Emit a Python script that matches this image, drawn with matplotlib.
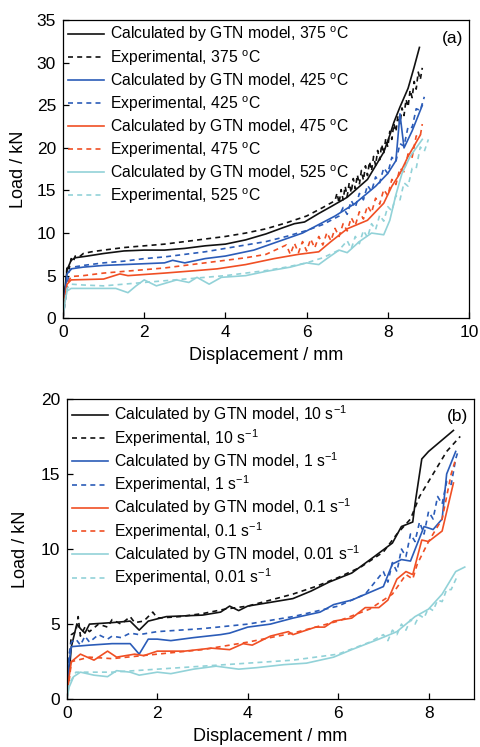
import matplotlib
matplotlib.use("Agg")
import matplotlib.pyplot as plt

plt.rcParams['font.family'] = ['Liberation Sans', 'DejaVu Sans']
plt.rcParams['mathtext.fontset'] = 'custom'
plt.rcParams['mathtext.rm'] = 'Liberation Sans'

BLACK = '#111111'
BLUE = '#2b5cb8'
RED = '#f04f24'
CYAN = '#92d2d8'

# ---------------- Panel (a): temperatures ----------------
a_calc_375_x = [0, 0.05, 0.1, 0.2, 0.3, 0.6, 1.0, 1.5, 2.0, 2.5, 3.0, 3.5, 4.0, 4.5, 5.0, 5.4, 5.7, 5.95, 6.3, 6.6, 7.0, 7.5, 7.9, 8.05, 8.15, 8.3, 8.5, 8.65, 8.78]
a_calc_375_y = [0, 3.5, 5.7, 6.8, 7.1, 7.3, 7.6, 7.9, 8.0, 8.0, 8.2, 8.5, 8.7, 9.2, 9.9, 10.6, 11.1, 11.3, 12.3, 13.1, 14.2, 16.3, 19.5, 21.5, 23.0, 24.8, 27.0, 29.5, 31.8]

a_exp_375_x = [0, 0.05, 0.1, 0.15, 0.2, 0.25, 0.3, 0.4, 0.5, 0.7, 1.0, 1.5, 2.0, 2.5, 3.0, 3.5, 4.0, 4.5, 5.0, 5.5, 6.0, 6.4, 6.7,
               6.75, 6.8, 6.85, 6.9, 6.95, 7.0, 7.05, 7.1, 7.15, 7.2, 7.25, 7.3, 7.35, 7.4, 7.45, 7.5, 7.55, 7.6, 7.65, 7.7, 7.75, 7.8,
               7.85, 7.9, 7.95, 8.0, 8.05, 8.1, 8.15, 8.2, 8.25, 8.3, 8.35, 8.4, 8.45, 8.5, 8.55, 8.6, 8.65, 8.7, 8.75, 8.8, 8.85]
a_exp_375_y = [0, 3.0, 6.2, 5.8, 7.0, 6.6, 7.3, 7.2, 7.6, 7.8, 8.0, 8.3, 8.5, 8.7, 9.0, 9.3, 9.6, 10.0, 10.5, 11.2, 12.0, 13.0, 13.8,
               14.7, 13.5, 15.1, 13.9, 15.5, 14.3, 15.9, 14.75, 16.4, 15.2, 16.85, 15.7, 17.35, 16.2, 17.9, 16.75, 18.4, 17.3, 19.0, 17.95, 19.7, 18.6,
               20.4, 19.3, 21.1, 20.1, 21.95, 21.0, 22.85, 21.9, 23.8, 22.85, 24.7, 23.8, 25.7, 24.8, 26.8, 25.9, 27.8, 26.9, 28.9, 28.0, 29.4]

a_calc_425_x = [0, 0.05, 0.1, 0.2, 0.5, 1.0, 1.5, 2.0, 2.5, 2.7, 3.0, 3.5, 4.0, 4.7, 5.3, 5.9, 6.3, 6.7, 7.2, 7.7, 8.0, 8.2, 8.3, 8.4, 8.6, 8.85]
a_calc_425_y = [0, 3.0, 5.2, 5.8, 6.0, 6.2, 6.3, 6.4, 6.5, 6.8, 6.5, 7.0, 7.3, 8.0, 9.0, 10.0, 11.0, 12.0, 13.5, 15.5, 17.0, 18.5, 24.0, 20.0, 22.0, 25.0]

a_exp_425_x = [0, 0.08, 0.15, 0.25, 0.5, 1.0, 1.5, 2.0, 2.5, 3.0, 3.5, 4.0, 4.5, 5.0, 5.5, 6.0, 6.4, 6.8,
               6.9, 7.0, 7.1, 7.2, 7.3, 7.4, 7.5, 7.6, 7.7, 7.8, 7.9, 8.0, 8.1, 8.2, 8.3, 8.4, 8.5, 8.6, 8.7, 8.8, 8.9]
a_exp_425_y = [0, 3.0, 5.5, 6.0, 6.2, 6.5, 6.7, 7.0, 7.2, 7.5, 7.8, 8.2, 8.6, 9.0, 9.6, 10.3, 11.0, 12.0,
               13.0, 12.2, 13.8, 13.0, 14.65, 13.9, 15.6, 14.9, 16.6, 15.9, 17.65, 17.0, 18.9, 18.4, 20.5, 20.2, 22.5, 22.4, 24.6, 24.4, 26.0]

a_calc_475_x = [0, 0.05, 0.1, 0.2, 1.0, 1.4, 1.6, 2.5, 3.3, 3.8, 4.5, 5.2, 5.8, 6.3, 6.6, 7.0, 7.5, 7.9, 8.1, 8.3, 8.5, 8.8]
a_calc_475_y = [0, 2.5, 4.0, 4.5, 4.6, 5.2, 5.0, 5.3, 5.6, 5.8, 6.3, 7.0, 7.5, 7.8, 9.0, 10.5, 11.5, 13.5, 15.5, 17.0, 19.0, 21.5]

a_exp_475_x = [0, 0.05, 0.1, 0.2, 0.5, 1.0, 1.5, 2.0, 2.5, 3.0, 3.5, 4.0, 4.5, 5.0,
               5.5, 5.6, 5.7, 5.8, 5.9, 6.0, 6.1, 6.2, 6.3, 6.4, 6.5, 6.6, 6.7, 6.8, 6.9, 7.0, 7.1, 7.2, 7.3, 7.4,
               7.5, 7.6, 7.7, 7.8, 7.9, 8.0, 8.1, 8.2, 8.3, 8.4, 8.5, 8.6, 8.7, 8.8, 8.85]
a_exp_475_y = [0, 2.0, 4.0, 4.9, 5.0, 5.3, 5.5, 5.7, 5.9, 6.2, 6.5, 6.8, 7.1, 7.5,
               8.6, 7.5, 8.8, 7.7, 9.0, 7.9, 9.3, 8.25, 9.6, 8.6, 10.05, 9.1, 10.55, 9.6, 11.1, 10.25, 11.8, 10.9, 12.5, 11.65,
               13.2, 12.4, 14.1, 13.4, 15.1, 14.4, 16.3, 15.7, 17.6, 17.2, 19.3, 18.9, 21.4, 21.4, 22.8]

a_calc_525_x = [0, 0.05, 0.1, 0.2, 1.3, 1.6, 1.8, 2.0, 2.3, 2.8, 3.1, 3.3, 3.6, 3.9, 4.5, 5.0, 5.6, 6.0, 6.3, 6.5, 6.8, 7.0, 7.3, 7.6, 7.9, 8.05, 8.2, 8.35, 8.55, 8.85]
a_calc_525_y = [0, 2.0, 3.2, 3.5, 3.5, 3.0, 3.8, 4.5, 3.8, 4.5, 4.2, 4.8, 4.0, 4.8, 5.0, 5.5, 6.0, 6.5, 6.3, 7.0, 8.0, 7.7, 9.0, 10.0, 9.8, 11.5, 14.5, 17.0, 19.0, 21.0]

a_exp_525_x = [0, 0.05, 0.1, 0.2, 0.5, 1.0, 1.5, 2.0, 2.5, 3.0, 3.5, 4.0, 4.5, 5.0, 5.5, 6.0, 6.4, 6.8,
               7.0, 7.1, 7.2, 7.3, 7.4, 7.5, 7.6, 7.7, 7.8, 7.9, 8.0, 8.1, 8.2, 8.3, 8.4, 8.5, 8.6, 8.7, 8.8, 8.9, 9.0]
a_exp_525_y = [0, 2.0, 3.5, 4.0, 3.9, 3.8, 4.0, 4.2, 4.4, 4.6, 4.8, 5.0, 5.3, 5.6, 6.0, 6.5, 7.1, 8.0,
               9.1, 8.15, 9.6, 8.75, 10.3, 9.5, 11.1, 10.4, 12.1, 11.4, 13.1, 12.6, 14.4, 13.9, 15.9, 15.5, 17.6, 17.6, 20.1, 19.6, 21.0]

a_labels = ['Calculated by GTN model, 375 $^{\\rm o}$C', 'Experimental, 375 $^{\\rm o}$C',
            'Calculated by GTN model, 425 $^{\\rm o}$C', 'Experimental, 425 $^{\\rm o}$C',
            'Calculated by GTN model, 475 $^{\\rm o}$C', 'Experimental, 475 $^{\\rm o}$C',
            'Calculated by GTN model, 525 $^{\\rm o}$C', 'Experimental, 525 $^{\\rm o}$C']
a_xticks = [0, 2, 4, 6, 8, 10]
a_yticks = [0, 5, 10, 15, 20, 25, 30, 35]

# ---------------- Panel (b): strain rates ----------------
b_calc_10_x = [0, 0.1, 0.22, 0.3, 0.4, 0.5, 1.0, 1.4, 1.6, 1.8, 2.2, 3.0, 3.4, 3.6, 3.8, 4.0, 4.6, 5.0, 5.4, 5.8, 6.3, 6.8, 7.2, 7.4, 7.65, 7.7, 7.85, 8.0, 8.55]
b_calc_10_y = [0, 3.5, 5.0, 4.7, 4.4, 5.0, 5.1, 5.2, 4.6, 5.2, 5.5, 5.6, 5.8, 6.2, 5.9, 6.2, 6.5, 6.7, 7.2, 7.8, 8.4, 9.5, 10.4, 11.5, 11.8, 13.0, 16.0, 16.5, 17.9]

b_exp_10_x = [0, 0.05, 0.1, 0.2, 0.25, 0.3, 0.4, 0.5, 0.7, 0.9, 1.0, 1.2, 1.4, 1.5, 1.7, 1.9, 2.0, 2.5, 3.0, 3.5, 4.0, 4.5, 5.0, 5.5, 6.0, 6.5, 7.0, 7.3, 7.6, 7.8, 8.1, 8.4, 8.7]
b_exp_10_y = [0, 2.5, 4.3, 4.5, 5.5, 4.2, 4.8, 4.5, 5.0, 4.8, 5.3, 5.0, 5.5, 5.1, 5.2, 5.8, 5.4, 5.5, 5.7, 6.0, 6.2, 6.6, 7.0, 7.5, 8.1, 8.8, 9.8, 11.0, 12.0, 13.5, 15.0, 16.5, 17.5]

b_calc_1_x = [0, 0.05, 0.1, 0.5, 1.0, 1.4, 1.6, 1.8, 2.0, 2.3, 2.8, 3.4, 3.6, 4.0, 4.5, 5.0, 5.6, 5.9, 6.3, 7.0, 7.2, 7.4, 7.6, 7.9, 8.1, 8.3, 8.4, 8.6]
b_calc_1_y = [0, 2.5, 3.5, 3.6, 3.7, 3.7, 3.0, 4.0, 4.0, 3.9, 4.1, 4.3, 4.4, 4.8, 5.0, 5.4, 5.8, 6.3, 6.6, 7.5, 9.0, 9.3, 9.2, 11.5, 11.3, 12.0, 15.0, 16.5]

b_exp_1_x = [0, 0.05, 0.1, 0.2, 0.3, 0.4, 0.5, 0.7, 0.9, 1.0, 1.2, 1.4, 1.6, 2.0, 3.0, 4.0, 5.0, 6.0, 6.6,
             7.0, 7.1, 7.2, 7.3, 7.4, 7.5, 7.6, 7.7, 7.8, 7.9, 8.0, 8.1, 8.2, 8.3, 8.4, 8.5, 8.6, 8.65]
b_exp_1_y = [0, 3.0, 3.8, 4.0, 3.6, 4.2, 3.8, 4.3, 4.0, 4.2, 4.1, 4.4, 4.3, 4.5, 4.7, 5.0, 5.5, 6.2, 7.0,
             8.5, 7.8, 9.1, 8.5, 10.0, 9.5, 11.0, 10.5, 11.8, 11.0, 12.5, 12.0, 13.5, 13.0, 14.5, 14.3, 16.0, 16.5]

b_calc_01_x = [0, 0.05, 0.1, 0.3, 0.6, 0.9, 1.1, 1.5, 1.7, 2.0, 2.6, 3.2, 3.6, 3.9, 4.1, 4.5, 4.9, 5.0, 5.5, 5.7, 5.9, 6.3, 6.6, 6.9, 7.1, 7.3, 7.5, 7.65, 7.85, 8.0, 8.3, 8.55]
b_calc_01_y = [0, 1.5, 2.5, 3.0, 2.6, 3.2, 2.8, 3.0, 2.9, 3.2, 3.2, 3.4, 3.3, 3.7, 3.6, 4.2, 4.5, 4.3, 4.8, 4.8, 5.2, 5.4, 6.1, 6.1, 6.6, 8.0, 8.5, 8.3, 10.6, 10.5, 11.2, 14.4]

b_exp_01_x = [0, 0.05, 0.1, 0.5, 1.0, 2.0, 3.0, 4.0, 5.0, 6.0, 6.7, 7.2, 7.5, 7.65, 7.75, 8.0, 8.3, 8.5, 8.6]
b_exp_01_y = [0, 1.2, 2.5, 2.8, 2.7, 3.0, 3.3, 3.8, 4.4, 5.2, 6.0, 7.0, 8.3, 8.0, 9.0, 10.5, 12.0, 15.0, 16.0]

b_calc_001_x = [0, 0.05, 0.15, 0.3, 0.6, 0.9, 1.1, 1.4, 1.6, 2.0, 2.3, 2.8, 3.3, 3.8, 4.2, 4.8, 5.3, 5.9, 6.3, 6.9, 7.3, 7.7, 8.0, 8.3, 8.6, 8.8]
b_calc_001_y = [0, 0.8, 1.5, 1.8, 1.6, 1.5, 1.9, 1.8, 1.6, 1.8, 1.7, 2.0, 2.2, 2.0, 2.1, 2.3, 2.4, 2.8, 3.3, 4.0, 4.5, 5.5, 6.0, 7.0, 8.5, 8.8]

b_exp_001_x = [0, 0.05, 0.2, 0.5, 1.0, 2.0, 3.0, 4.0, 5.0, 6.0, 6.7,
               7.0, 7.1, 7.2, 7.3, 7.4, 7.5, 7.6, 7.7, 7.8, 7.9, 8.0, 8.1, 8.2, 8.3, 8.4, 8.5, 8.65]
b_exp_001_y = [0, 1.0, 1.8, 1.8, 1.8, 2.0, 2.2, 2.4, 2.6, 3.0, 3.8,
               4.3, 3.9, 4.6, 4.3, 5.0, 4.6, 5.3, 5.0, 5.6, 5.4, 6.1, 5.9, 6.6, 6.5, 7.3, 7.3, 8.3]

b_labels = ['Calculated by GTN model, 10 s$^{-1}$', 'Experimental, 10 s$^{-1}$',
            'Calculated by GTN model, 1 s$^{-1}$', 'Experimental, 1 s$^{-1}$',
            'Calculated by GTN model, 0.1 s$^{-1}$', 'Experimental, 0.1 s$^{-1}$',
            'Calculated by GTN model, 0.01 s$^{-1}$', 'Experimental, 0.01 s$^{-1}$']
b_xticks = [0, 2, 4, 6, 8]
b_yticks = [0, 5, 10, 15, 20]

fig = plt.figure(figsize=(4.81, 7.47), dpi=100)
ax1 = fig.add_axes([0.131, 0.574, 0.844, 0.399])
ax2 = fig.add_axes([0.139, 0.064, 0.846, 0.402])

colors = [BLACK, BLACK, BLUE, BLUE, RED, RED, CYAN, CYAN]
styles = ['-', '--'] * 4

a_series = [(a_calc_375_x, a_calc_375_y), (a_exp_375_x, a_exp_375_y),
            (a_calc_425_x, a_calc_425_y), (a_exp_425_x, a_exp_425_y),
            (a_calc_475_x, a_calc_475_y), (a_exp_475_x, a_exp_475_y),
            (a_calc_525_x, a_calc_525_y), (a_exp_525_x, a_exp_525_y)]
b_series = [(b_calc_10_x, b_calc_10_y), (b_exp_10_x, b_exp_10_y),
            (b_calc_1_x, b_calc_1_y), (b_exp_1_x, b_exp_1_y),
            (b_calc_01_x, b_calc_01_y), (b_exp_01_x, b_exp_01_y),
            (b_calc_001_x, b_calc_001_y), (b_exp_001_x, b_exp_001_y)]


def draw(ax, series, labels, xlim, ylim, xticks, yticks, tag, ylpad, lspace):
    for (x, y), lab, c, ls in zip(series, labels, colors, styles):
        if ls == '--':
            ax.plot(x, y, color=c, ls='--', lw=1.2, label=lab, dashes=(3, 2.5))
        else:
            ax.plot(x, y, color=c, ls='-', lw=1.2, label=lab)
    ax.set_xlim(*xlim)
    ax.set_ylim(*ylim)
    ax.set_xticks(xticks)
    ax.set_yticks(yticks)
    ax.tick_params(direction='in', length=4, width=0.9, labelsize=12.5, pad=5, top=False, right=False)
    for s in ax.spines.values():
        s.set_linewidth(0.9)
    ax.set_xlabel('Displacement / mm', fontsize=13, labelpad=5)
    ax.set_ylabel('Load / kN', fontsize=13, labelpad=ylpad)
    ax.legend(loc='upper left', frameon=False, fontsize=11.3, handlelength=2.3,
              handletextpad=0.4, labelspacing=lspace, borderaxespad=0.1, borderpad=0.2)
    ax.text(0.985, 0.94, tag, transform=ax.transAxes, ha='right', va='center', fontsize=12.5)


draw(ax1, a_series, a_labels, (0, 10), (0, 35), a_xticks, a_yticks, '(a)', 7, 0.22)
draw(ax2, b_series, b_labels, (0, 9), (0, 20), b_xticks, b_yticks, '(b)', 8, 0.1)

fig.savefig('out.png', dpi=100)
